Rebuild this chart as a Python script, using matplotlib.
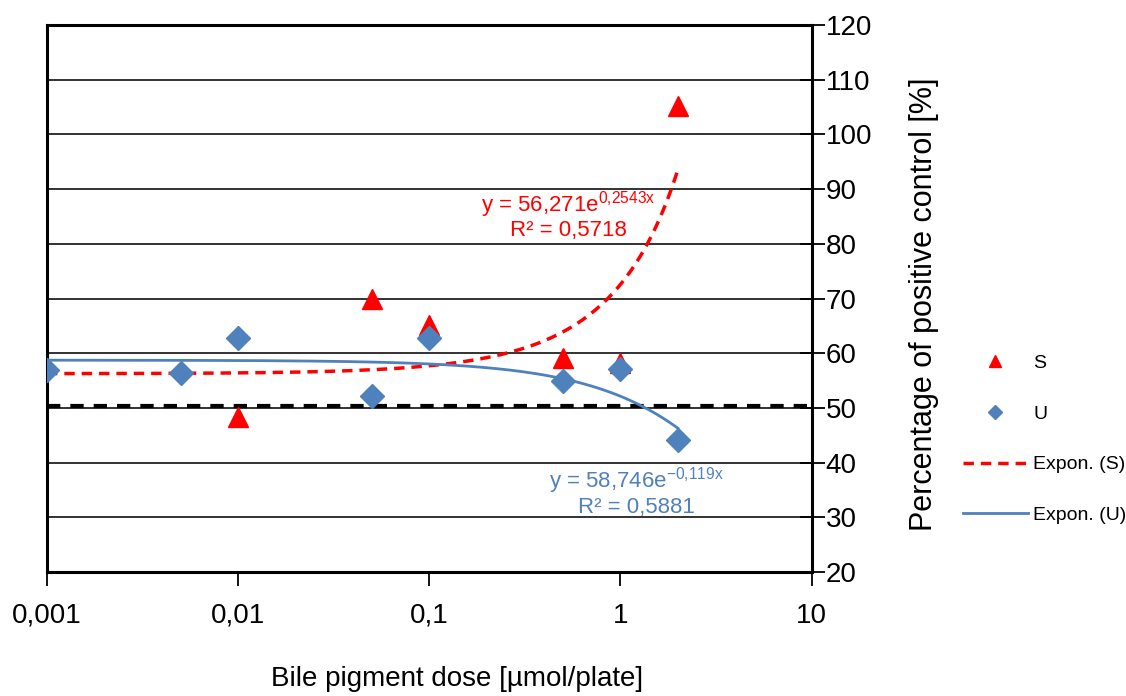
import numpy as np
import matplotlib
matplotlib.use("Agg")
import matplotlib.pyplot as plt

plt.rcParams['font.family'] = ['Liberation Sans', 'DejaVu Sans']
plt.rcParams['mathtext.fontset'] = 'custom'
plt.rcParams['mathtext.rm'] = 'Liberation Sans'

# data
dose_s = [0.01, 0.05, 0.1, 0.5, 1, 2]
pct_s = [48.3, 69.9, 65.2, 59.1, 58.2, 105.2]

dose_u = [0.001, 0.005, 0.01, 0.05, 0.1, 0.5, 1, 2]
pct_u = [56.9, 56.4, 62.8, 52.2, 62.8, 54.9, 57.1, 44.1]

# trendline equations shown on the chart
s_a, s_b = 56.271, 0.2543
u_a, u_b = 58.746, -0.119
fit_range = (0.001, 2)

x_ticks = [0.001, 0.01, 0.1, 1, 10]
x_ticklabels = ['0,001', '0,01', '0,1', '1', '10']
y_ticks = [20, 30, 40, 50, 60, 70, 80, 90, 100, 110, 120]
cutoff = 50.3

red = '#FF0000'
blue = '#4F81BD'

fig = plt.figure(figsize=(11.26, 6.96), dpi=100)
ax = fig.add_axes([0.0417, 0.178, 0.679, 0.786])

ax.set_xscale('log')
ax.set_xlim(0.001, 10)
ax.set_ylim(20, 120)

for yv in y_ticks[1:-1]:
    ax.axhline(yv, color='#222222', lw=1.3, zorder=1)
ax.axhline(cutoff, color='black', lw=3, dashes=(3.2, 2.4), zorder=2)

xf = np.geomspace(fit_range[0], fit_range[1], 200)
ax.plot(xf, s_a * np.exp(s_b * xf), color=red, lw=2.5, dashes=(3, 2),
        label='Expon. (S)', zorder=3)
ax.plot(xf, u_a * np.exp(u_b * xf), color=blue, lw=2, label='Expon. (U)',
        zorder=3)

ax.plot(dose_s, pct_s, ls='none', marker='^', ms=15, color=red,
        label='S', zorder=4)
ax.plot(dose_u, pct_u, ls='none', marker='D', ms=12, color=blue,
        label='U', zorder=5)

ax.text(0.536, 87.1, r'y = 56,271e$^{\mathregular{0{,}2543x}}$',
        color=red, fontsize=16, ha='center', va='center')
ax.text(0.536, 82.5, 'R² = 0,5718', color=red, fontsize=16,
        ha='center', va='center')
ax.text(1.22, 36.8, r'y = 58,746e$^{\mathregular{-0{,}119x}}$',
        color=blue, fontsize=16, ha='center', va='center')
ax.text(1.22, 31.9, 'R² = 0,5881', color=blue, fontsize=16,
        ha='center', va='center')

ax.set_xticks(x_ticks)
ax.set_xticklabels(x_ticklabels)
ax.minorticks_off()
ax.yaxis.tick_right()
ax.yaxis.set_label_position('right')
ax.set_yticks(y_ticks)
ax.tick_params(axis='y', direction='inout', length=18, width=1.3,
               labelsize=20, pad=1)
ax.tick_params(axis='x', direction='out', length=10, width=1.3,
               labelsize=20, pad=12)
for sp in ax.spines.values():
    sp.set_linewidth(2.2)

ax.set_ylabel('Percentage of positive control [%]', fontsize=22)
ax.yaxis.set_label_coords(1.127, 0.49)
ax.set_xlabel('Bile pigment dose [µmol/plate]', fontsize=20)
ax.xaxis.set_label_coords(0.537, -0.172)

h, l = ax.get_legend_handles_labels()
order = [2, 3, 0, 1]
leg = fig.legend([h[i] for i in order], [l[i] for i in order],
                 loc='center left', bbox_to_anchor=(0.84, 0.369),
                 frameon=False, fontsize=14, labelspacing=1.7,
                 handlelength=3.3, handletextpad=0.3, markerscale=0.6)

fig.savefig('out.png', dpi=100)
